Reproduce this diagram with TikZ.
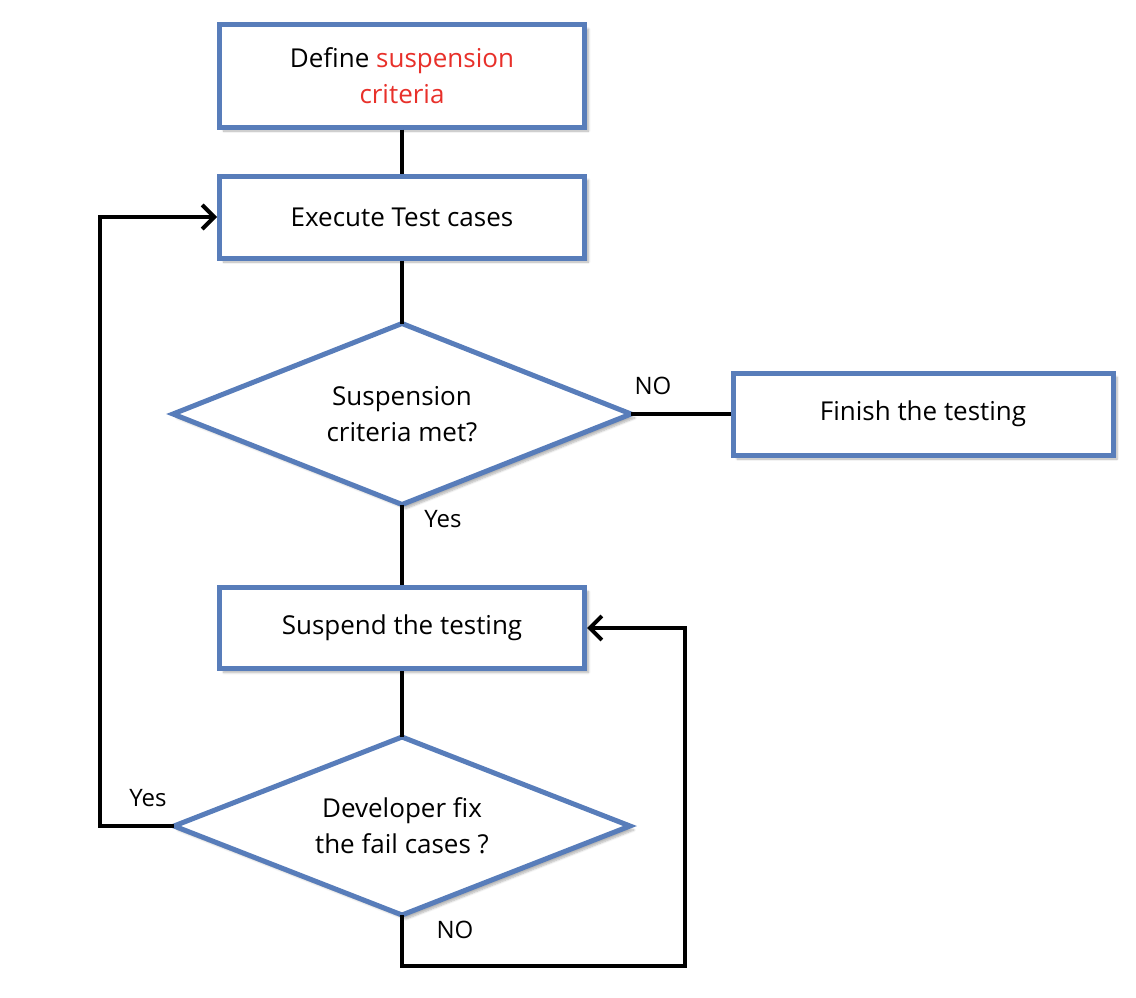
\documentclass[tikz,border=0pt]{standalone}
\usepackage{fontspec}
\setmainfont{Open Sans}
\usetikzlibrary{shapes.geometric,arrows.meta,shadows.blur}
\definecolor{boxblue}{RGB}{88,125,186}
\definecolor{hired}{RGB}{232,48,42}
\tikzset{
  every node/.style={font=\fontsize{26}{36}\selectfont},
  procbox/.style={draw=boxblue, line width=5pt, fill=white, rectangle,
     minimum width=365pt, align=center, inner sep=0pt,
     blur shadow={shadow xshift=4pt, shadow yshift=-4pt, shadow blur steps=6, shadow opacity=30}},
  decision/.style={draw=boxblue, line width=5pt, fill=white, diamond, shape aspect=2.5, align=center,
     inner sep=0pt, outer sep=0pt, blur shadow={shadow xshift=4pt, shadow yshift=-4pt, shadow blur steps=6, shadow opacity=30}},
  conn/.style={line width=4pt, draw=black},
  arr/.style={conn, -{Straight Barb[length=12pt,width=24pt,line width=4pt]}},
  lbl/.style={font=\fontsize{24}{28}\selectfont}
}
\begin{document}
\begin{tikzpicture}[x=1pt,y=-1pt]
\useasboundingbox (0,0) rectangle (1136,998);
\node[procbox, minimum height=102pt] (define) at (402,76) {Define \textcolor{hired}{suspension}\\\textcolor{hired}{criteria}};
\node[procbox, minimum height=82pt] (execute) at (402,217) {Execute Test cases};
\node[decision, minimum width=458pt, minimum height=181pt] (met) at (402,414) {Suspension\\criteria met?};
\node[procbox, minimum width=380pt, minimum height=82pt] (finish) at (923,414) {Finish the testing};
\node[procbox, minimum height=81pt] (suspend) at (402,628) {Suspend the testing};
\node[decision, minimum width=456pt, minimum height=178pt] (fix) at (402,826) {Developer fix\\the fail cases ?};
\coordinate (lefttop) at (100,217);
\coordinate (leftbot) at (100,826);
\coordinate (botleft) at (402,966);
\coordinate (botright) at (685,966);
\coordinate (righttop) at (685,628);
\draw[conn] (define.south) -- (execute.north);
\draw[conn] (execute.south) -- (met.north);
\draw[conn] (met.east) -- (finish.west);
\draw[conn] (met.south) -- (suspend.north);
\draw[conn] (suspend.south) -- (fix.north);
\draw[arr] (fix.west) -- (leftbot) -- (lefttop) -- (execute.west);
\draw[arr] (fix.south) -- (botleft) -- (botright) -- (righttop) -- (suspend.east);
\node[lbl] (lno1) at (653,386) {NO};
\node[lbl] (lyes1) at (443,519) {Yes};
\node[lbl] (lyes2) at (148,798) {Yes};
\node[lbl] (lno2) at (455,930) {NO};
\end{tikzpicture}
\end{document}
